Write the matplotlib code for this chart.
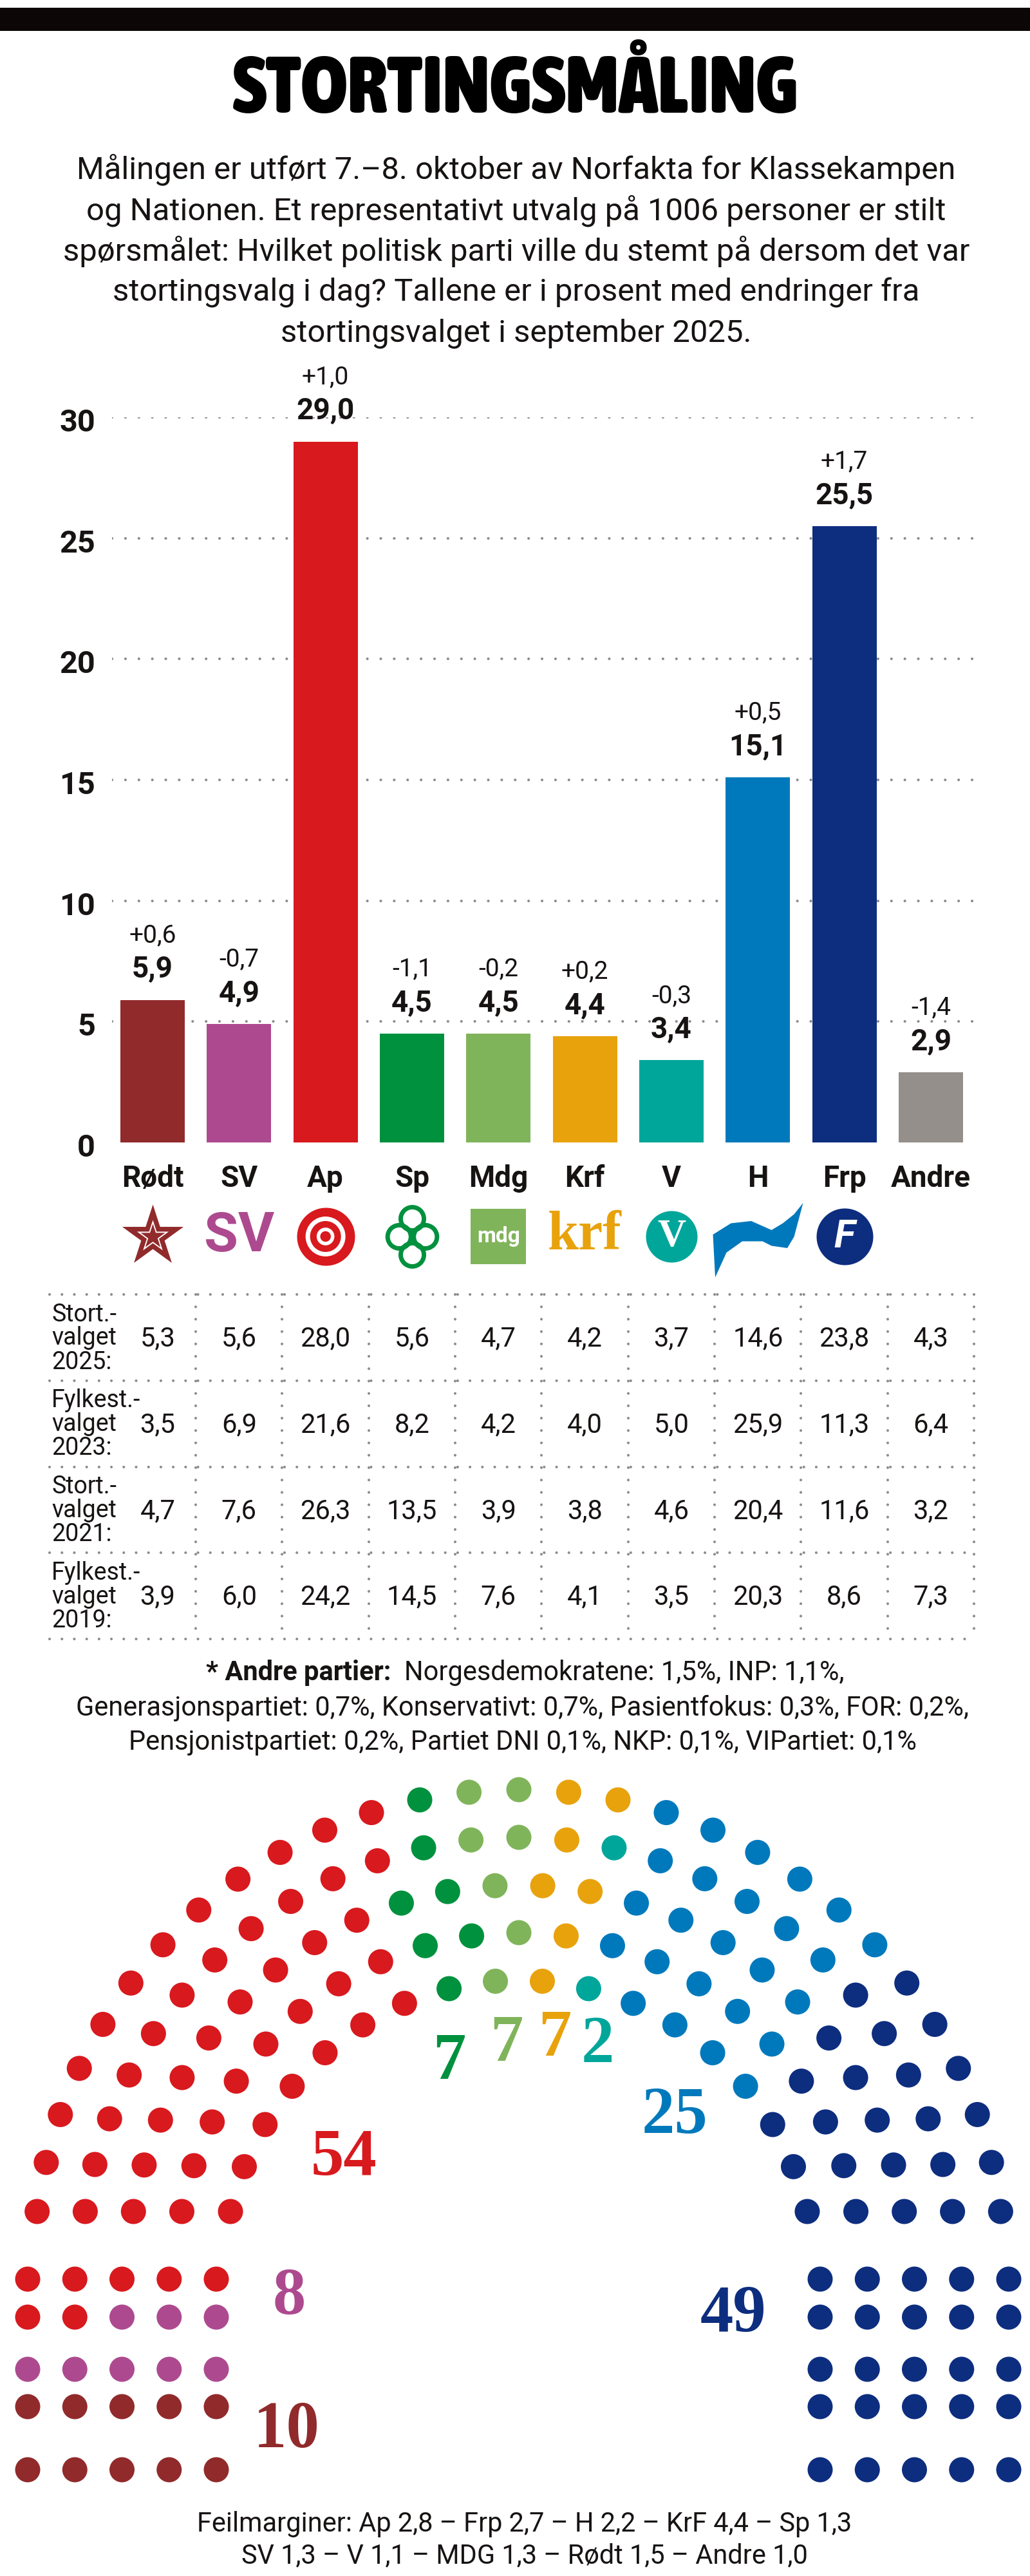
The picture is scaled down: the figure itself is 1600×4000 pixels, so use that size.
import numpy as np
import matplotlib
matplotlib.use("Agg")
import matplotlib.pyplot as plt
from matplotlib import transforms, font_manager
from matplotlib.font_manager import FontProperties
from matplotlib.path import Path

# --- data -----------------------------------------------------------------
parties = ["Rødt", "SV", "Ap", "Sp", "Mdg", "Krf", "V", "H", "Frp", "Andre"]
poll = [5.9, 4.9, 29.0, 4.5, 4.5, 4.4, 3.4, 15.1, 25.5, 2.9]
change = [0.6, -0.7, 1.0, -1.1, -0.2, 0.2, -0.3, 0.5, 1.7, -1.4]
colors = ["#912a2b", "#ad4a8f", "#d8191e", "#00913e", "#80b45a",
          "#e8a20c", "#00a69a", "#0079bc", "#0d2d7f", "#958f8b"]
yticks = [0, 5, 10, 15, 20, 25, 30]

table_labels = ["Stort.-\nvalget\n2025:", "Fylkest.-\nvalget\n2023:",
                "Stort.-\nvalget\n2021:", "Fylkest.-\nvalget\n2019:"]
stort_2025 = [5.3, 5.6, 28.0, 5.6, 4.7, 4.2, 3.7, 14.6, 23.8, 4.3]
fylke_2023 = [3.5, 6.9, 21.6, 8.2, 4.2, 4.0, 5.0, 25.9, 11.3, 6.4]
stort_2021 = [4.7, 7.6, 26.3, 13.5, 3.9, 3.8, 4.6, 20.4, 11.6, 3.2]
fylke_2019 = [3.9, 6.0, 24.2, 14.5, 7.6, 4.1, 3.5, 20.3, 8.6, 7.3]
table_rows = [stort_2025, fylke_2023, stort_2021, fylke_2019]

seat_parties = ["Rødt", "SV", "Ap", "Sp", "Mdg", "Krf", "V", "H", "Frp"]
seats = [10, 8, 54, 7, 7, 7, 2, 25, 49]

title = "STORTINGSMÅLING"
subtitle = ["Målingen er utført 7.–8. oktober av Norfakta for Klassekampen",
            "og Nationen. Et representativt utvalg på 1006 personer er stilt",
            "spørsmålet: Hvilket politisk parti ville du stemt på dersom det var",
            "stortingsvalg i dag? Tallene er i prosent med endringer fra",
            "stortingsvalget i september 2025."]
note_bold = "* Andre partier:"
note_lines = ["Norgesdemokratene: 1,5%, INP: 1,1%,",
              "Generasjonspartiet: 0,7%, Konservativt: 0,7%, Pasientfokus: 0,3%, FOR: 0,2%,",
              "Pensjonistpartiet: 0,2%, Partiet DNI 0,1%, NKP: 0,1%, VIPartiet: 0,1%"]
footer = ["Feilmarginer: Ap 2,8 – Frp 2,7 – H 2,2 – KrF 4,4 – Sp 1,3",
          "SV 1,3 – V 1,1 – MDG 1,3 – Rødt 1,5 – Andre 1,0"]


def fmt(v):
    return f"{v:.1f}".replace(".", ",")


def fmt_change(v):
    return f"{v:+.1f}".replace(".", ",")


# --- fonts ------------------------------------------------------------------
def weight_of(f):
    w = f.weight
    return font_manager.weight_dict.get(w, 400) if isinstance(w, str) else int(w)


cond = [f for f in font_manager.fontManager.ttflist
        if (any(k in f.name for k in ("Condensed", "Narrow", "Compressed"))
            or "condensed" in str(f.stretch))
        and "Mono" not in f.name and f.style == "normal"]
title_kw = dict(family=["Roboto", "DejaVu Sans"], fontweight="black")
if cond:
    best = max(cond, key=lambda f: (weight_of(f),
                                    "Extra" not in f.name and "extra" not in str(f.stretch)))
    if weight_of(best) >= 600:
        title_kw = dict(fontproperties=FontProperties(fname=best.fname))

plt.rcParams["font.family"] = ["Roboto", "DejaVu Sans"]
ink = "#161312"

W, H = 1600, 4000
fig = plt.figure(figsize=(16, 40), dpi=100)
fig.patch.set_facecolor("white")
renderer = fig.canvas.get_renderer()

canvas = fig.add_axes([0, 0, 1, 1])
canvas.set_xlim(0, W)
canvas.set_ylim(H, 0)
canvas.set_autoscale_on(False)
canvas.axis("off")


def px_rect(x0, y0, x1, y1):
    return [x0 / W, 1 - y1 / H, (x1 - x0) / W, (y1 - y0) / H]


def fit(t, target):
    size = t.get_fontsize() * target / t.get_window_extent(renderer).width
    t.set_fontsize(size)
    return size


# --- header -----------------------------------------------------------------
canvas.fill_between([0, W], 12, 48, color="#0c0606", lw=0)
tt = canvas.text(801, 141, title, ha="center", va="center", color="black", **title_kw)
tt.set_fontsize(80)
fit(tt, 878)
sub_texts = [canvas.text(802, 263 + 63.75 * k, line, ha="center", va="center",
                         fontsize=35, color=ink) for k, line in enumerate(subtitle)]
sub_size = fit(sub_texts[0], 1365)
for t in sub_texts[1:]:
    t.set_fontsize(sub_size)

# --- bar chart --------------------------------------------------------------
first_c, step = 237, 134.33
ax = fig.add_axes(px_rect(174, 648, 1517, 1774))
ax.set_xlim((174 - first_c) / step, (1517 - first_c) / step)
ax.set_ylim(0, 30)
ax.axis("off")
x = np.arange(len(parties))

grid = ax.hlines(yticks[1:], *ax.get_xlim(), colors="#8c8c8c",
                 linestyles=(0, (0.01, 5)), linewidth=3, zorder=0)
grid.set_capstyle("round")
ax.bar(x, poll, width=0.745, color=colors, zorder=2)

tick_tr = transforms.offset_copy(
    transforms.blended_transform_factory(canvas.transData, ax.transData),
    fig=fig, y=-9 * 0.72, units="points")
for t in yticks:
    canvas.text(148, t, str(t), transform=tick_tr, ha="right", va="center",
                fontsize=35, fontweight="bold", color=ink)

for i, (v, c) in enumerate(zip(poll, change)):
    ax.annotate(fmt(v), (i, v), xytext=(0, 48 * 0.72), textcoords="offset points",
                ha="center", va="center", fontsize=33, fontweight="bold",
                color=ink, annotation_clip=False)
    ax.annotate(fmt_change(c), (i, v), xytext=(0, 100 * 0.72), textcoords="offset points",
                ha="center", va="center", fontsize=28, color=ink,
                annotation_clip=False)

col_tr = transforms.blended_transform_factory(ax.transData, canvas.transData)
for i, p in enumerate(parties):
    canvas.text(i, 1830, p, transform=col_tr, ha="center", va="center",
                fontsize=33, fontweight="bold", color=ink)

# --- party logos (simplified) -------------------------------------------------
logo_y = 1920
clover = Path.make_compound_path(*[Path.circle((dx, dy), 0.4)
                                   for dx, dy in [(0, 0.62), (0, -0.62), (0.45, 0), (-0.45, 0)]])
swoosh = Path([(-0.95, -0.9), (-1.0, 0.05), (-0.6, 0.3), (-0.15, 0.35), (0.3, 0.15),
               (0.55, 0.3), (0.8, 0.5), (1.0, 0.75), (0.8, 0.0), (0.65, -0.25),
               (0.3, -0.2), (0.1, -0.1), (-0.35, -0.1), (-0.7, -0.35), (-0.95, -0.9)],
              closed=True)


def mark(i, marker, size_px, **kw):
    canvas.scatter([i], [logo_y], s=(size_px * 0.72) ** 2, marker=marker,
                   transform=col_tr, **kw)


mark(0, "*", 100, color=colors[0], linewidths=0)
mark(0, "*", 52, color="white", linewidths=0)
mark(0, "*", 40, color=colors[0], linewidths=0)
canvas.text(1, logo_y, "SV", transform=col_tr, ha="center", va="center",
            fontsize=62, fontweight="bold", color=colors[1])
mark(2, "o", 90, color=colors[2], linewidths=0)
mark(2, "o", 55, facecolors="none", edgecolors="white", linewidths=5)
mark(2, "o", 22, facecolors="none", edgecolors="white", linewidths=4)
mark(3, clover, 92, facecolors="white", edgecolors=colors[3], linewidths=5)
mark(4, "s", 86, color=colors[4], linewidths=0)
canvas.text(4, logo_y, "mdg", transform=col_tr, ha="center", va="center",
            fontsize=24, fontweight="bold", color="white")
canvas.text(5, logo_y, "krf", transform=col_tr, ha="center", va="center",
            fontsize=62, fontweight="bold", family=["Liberation Serif", "DejaVu Serif"],
            color=colors[5])
mark(6, "o", 80, color=colors[6], linewidths=0)
canvas.text(6, logo_y, "V", transform=col_tr, ha="center", va="center",
            fontsize=44, fontweight="bold", family=["Liberation Serif", "DejaVu Serif"],
            color="white")
mark(7, swoosh, 140, color=colors[7], linewidths=0)
mark(8, "o", 88, color=colors[8], linewidths=0)
canvas.text(8, logo_y, "F", transform=col_tr, ha="center", va="center",
            fontsize=44, fontweight="bold", style="italic", color="white")

# --- history table ----------------------------------------------------------
top, row_h = 2010, 133.75
dots = dict(colors="#8c8c8c", linestyles=(0, (0.01, 4.6)), linewidth=3)
hl = canvas.hlines([top + row_h * k for k in range(5)], 77, 1517, **dots)
hl.set_capstyle("round")
vl = canvas.vlines(x + 0.5, top, top + 4 * row_h, transform=col_tr, **dots)
vl.set_capstyle("round")
for r, (label, values) in enumerate(zip(table_labels, table_rows)):
    y0 = top + row_h * r
    for j, part in enumerate(label.split("\n")):
        canvas.text(80, y0 + 31 + 37 * j, part, ha="left", va="center",
                    fontsize=27, color=ink)
    for i, v in enumerate(values):
        canvas.text(i + (0.06 if i == 0 else 0), y0 + 69, fmt(v), transform=col_tr,
                    ha="center", va="center", fontsize=30, color=ink)

# footnote on other parties
note_texts = [canvas.text(812, 2652 + 53 * k, line, ha="center", va="center",
                          fontsize=30, color=ink) for k, line in enumerate(note_lines[1:])]
note_size = fit(note_texts[0], 1385)
note_texts[1].set_fontsize(note_size)
tb = canvas.text(0, 2597, note_bold, ha="left", va="center", fontsize=note_size,
                 fontweight="bold", color=ink)
tr = canvas.text(0, 2597, note_lines[0], ha="left", va="center", fontsize=note_size,
                 color=ink)
wb = tb.get_window_extent(renderer).width
wr = tr.get_window_extent(renderer).width
gap = 20
x_start = 816 - (wb + gap + wr) / 2
tb.set_x(x_start)
tr.set_x(x_start + wb + gap)

# --- seat distribution ------------------------------------------------------
seat_color = dict(zip(seat_parties, colors))
block_cols, block_rows = 5, 5
block_size = block_cols * block_rows
mid_x = 805
left_block = ["Ap", "SV", "Rødt"]      # filled row by row from the top
seat_count = dict(zip(seat_parties, seats))
left_n = {"Rødt": seat_count["Rødt"], "SV": seat_count["SV"]}
left_n["Ap"] = block_size - left_n["Rødt"] - left_n["SV"]
right_n = {"Frp": block_size}
arc_n = {p: seat_count[p] - left_n.get(p, 0) - right_n.get(p, 0) for p in seat_parties}
arc_order = ["Ap", "Sp", "Mdg", "Krf", "V", "H", "Frp"]
dot_s = (39 * 0.72) ** 2

# block grids
col_x = 43 + 73.25 * np.arange(block_cols)
row_y = 3539 + np.cumsum([0, 59, 81, 58, 98])
left_cols = []
for p in left_block:
    left_cols += [seat_color[p]] * left_n[p]
bx, by = np.meshgrid(col_x, row_y)
canvas.scatter(bx.ravel(), by.ravel(), s=dot_s, c=left_cols, linewidths=0)
canvas.scatter((2 * mid_x - bx).ravel(), by.ravel(), s=dot_s,
               c=[seat_color["Frp"]] * right_n["Frp"], linewidths=0)

# hemicycle: rows of seats, parties assigned by angle from left to right
cx, cy = 806, 3534
radii = 459 + 74 * np.arange(5)
n_arc = sum(arc_n[p] for p in arc_order)
share = n_arc * radii / radii.sum()
row_n = np.floor(share).astype(int)
extra = n_arc - row_n.sum()
row_n[np.argsort(-(share - row_n))[:extra]] += 1
ang, rad = [], []
for r, n in zip(radii, row_n):
    tmin = np.arcsin(100 / r)
    ang.append(np.linspace(np.pi - tmin, tmin, n))
    rad.append(np.full(n, r))
ang = np.concatenate(ang)
rad = np.concatenate(rad)
order = np.lexsort((rad, -ang))
arc_cols = []
for p in arc_order:
    arc_cols += [seat_color[p]] * arc_n[p]
sx = cx + rad[order] * np.cos(ang[order])
sy = cy - rad[order] * np.sin(ang[order])
canvas.scatter(sx, sy, s=dot_s, c=arc_cols, linewidths=0)

seat_label_xy = {"Rødt": (445, 3775), "SV": (449, 3568), "Ap": (534, 3352),
                 "Sp": (698, 3203), "Mdg": (787, 3175), "Krf": (862, 3167),
                 "V": (928, 3177), "H": (1048, 3287), "Frp": (1139, 3595)}
num_font = ["Liberation Serif", "DejaVu Serif"]
for p, n in zip(seat_parties, seats):
    lx, ly = seat_label_xy[p]
    canvas.text(lx, ly, str(n), ha="center", va="center", fontsize=74,
                fontweight="bold", family=num_font, color=seat_color[p])

foot_texts = [canvas.text(815, 3920 + 49 * k, line, ha="center", va="center",
                          fontsize=30, color=ink) for k, line in enumerate(footer)]
foot_size = fit(foot_texts[0], 1018)
foot_texts[1].set_fontsize(foot_size)

fig.savefig("out.png", dpi=100, facecolor="white")
